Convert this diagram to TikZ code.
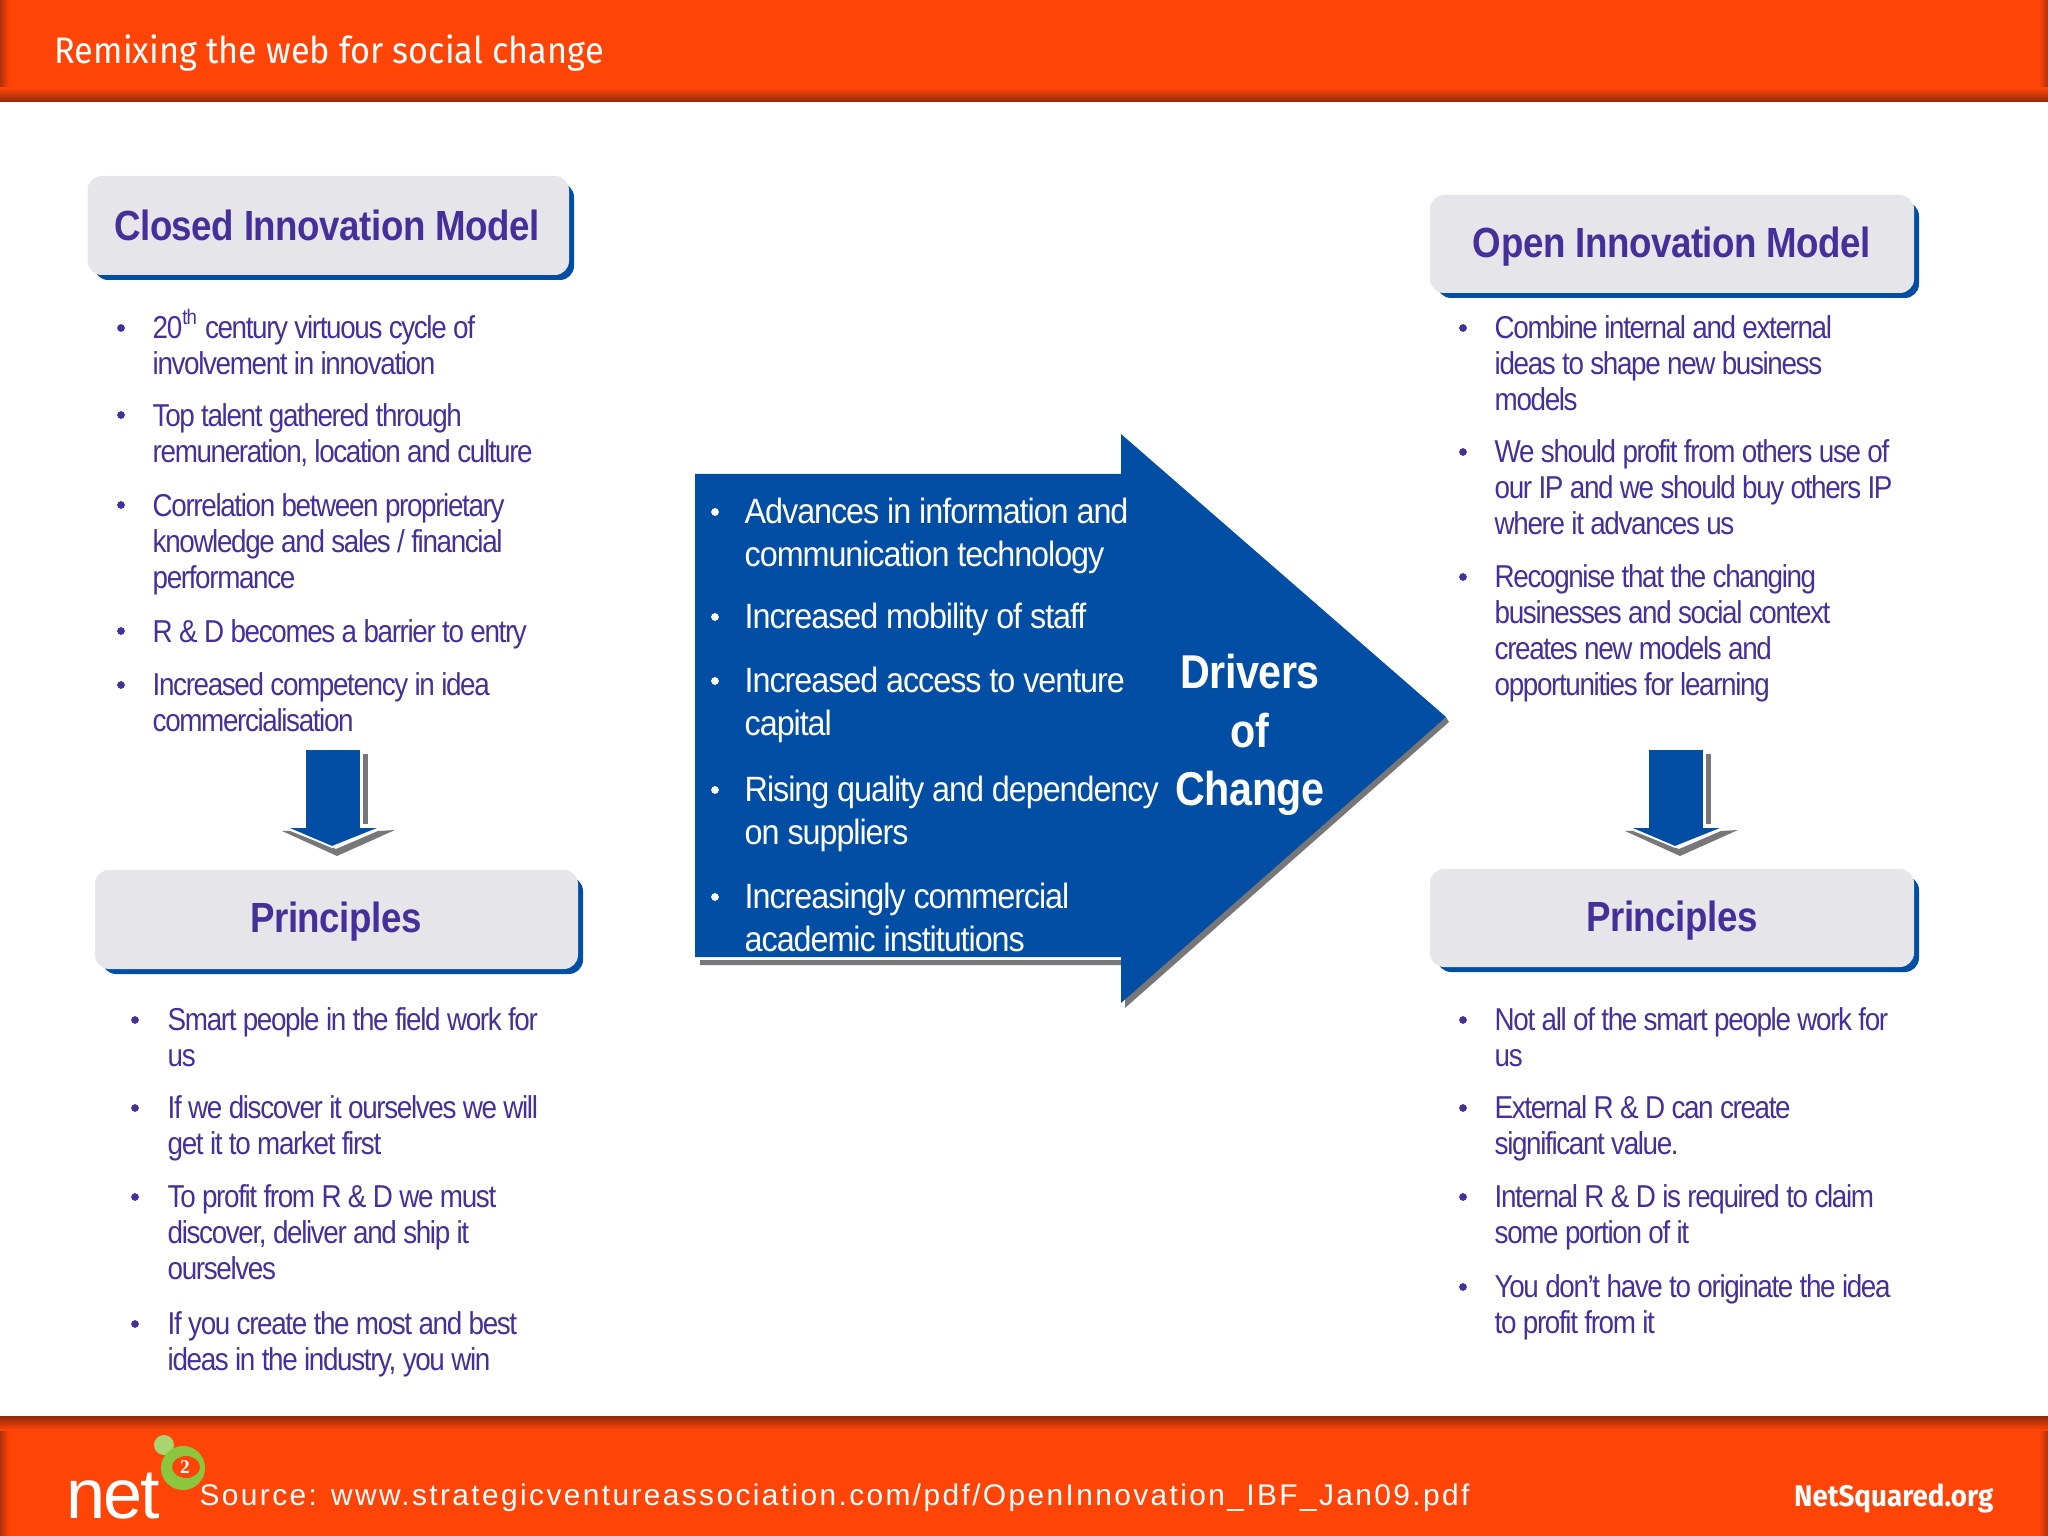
\documentclass[tikz,border=0pt]{standalone}
\usepackage{fontspec}
\setmainfont{Liberation Sans}
\newfontfamily\itemfont[FakeStretch=0.88,LetterSpace=-4.3]{Liberation Sans}
\newfontfamily\driverfont[FakeStretch=0.92,LetterSpace=-3]{Liberation Sans}
\newfontfamily\headfont[FakeStretch=0.87,LetterSpace=-1]{Liberation Sans}
\newfontfamily\barfont[FakeStretch=0.93]{Fira Sans}
\newfontfamily\sourcefont[LetterSpace=8.0]{Liberation Sans}
\newfontfamily\logofont{Liberation Serif}
\newfontfamily\netfont[LetterSpace=-3]{Liberation Sans}
\definecolor{barorange}{HTML}{FF4408}
\definecolor{bardark}{HTML}{8E2A0C}
\definecolor{boxgray}{HTML}{E6E5EA}
\definecolor{modelblue}{HTML}{024EA4}
\definecolor{itempurple}{HTML}{45309A}
\definecolor{shadowgray}{HTML}{77777A}
\definecolor{logogreen}{HTML}{8CC63F}
\tikzset{
  titlebox/.style={fill=boxgray,rounded corners=4pt},
  titleshadow/.style={fill=modelblue,rounded corners=4pt},
  titletext/.style={text=itempurple,font=\headfont\fontsize{12}{14}\bfseries\selectfont},
  itemtext/.style={anchor=north west,inner sep=0pt,align=left,text=itempurple,
    font=\itemfont\fontsize{9}{10.25}\selectfont},
  itemdot/.style={circle,fill=itempurple,inner sep=0pt,minimum size=2.2pt},
  whitetext/.style={anchor=north west,inner sep=0pt,align=left,text=white,
    font=\driverfont\fontsize{10}{12.4}\selectfont},
  whitedot/.style={circle,fill=white,inner sep=0pt,minimum size=2.2pt},
  downarrow/.style={fill=modelblue,draw=white,line width=0.5pt},
  downshadow/.style={fill=shadowgray},
}
\begin{document}
\begin{tikzpicture}
\useasboundingbox (0,0) rectangle (20.48,-15.36);
\fill[white] (0,0) rectangle (20.48,-15.36);
% top and bottom bars
\fill[barorange] (0,0) rectangle (20.48,-1.02);
\shade[left color=bardark!70!barorange,right color=barorange] (0,0) rectangle (0.09,-1.02);
\shade[left color=barorange,right color=bardark!70!barorange] (20.39,0) rectangle (20.48,-1.02);
\shade[top color=barorange,bottom color=bardark] (0,-0.88) rectangle (20.48,-1.02);
\fill[barorange] (0,-14.16) rectangle (20.48,-15.36);
\shade[left color=bardark!70!barorange,right color=barorange] (0,-14.16) rectangle (0.09,-15.36);
\shade[left color=barorange,right color=bardark!70!barorange] (20.39,-14.16) rectangle (20.48,-15.36);
\shade[top color=bardark,bottom color=barorange] (0,-14.16) rectangle (20.48,-14.30);
\node[anchor=west,inner sep=0pt,text=white,font=\barfont\fontsize{10.5}{12}\selectfont] (bartitle) at (0.54,-0.53) {Remixing the web for social change};
% logo
\fill[logogreen!75!white] (1.64,-14.45) circle (0.10);
\fill[logogreen] (1.83,-14.68) circle (0.22);
\fill[barorange] (1.86,-14.67) ellipse (0.14 and 0.11);
\node[text=white,font=\logofont\bfseries\fontsize{5.5}{6}\selectfont,inner sep=0pt] (logotwo) at (1.85,-14.67) {2};
\node[anchor=base west,inner sep=0pt,text=white,font=\netfont\fontsize{20}{24}\selectfont] (logonet) at (0.66,-15.18) {net};
\node[anchor=west,inner sep=0pt,text=white,font=\sourcefont\fontsize{8.5}{10}\selectfont] (source) at (1.99,-14.98) {Source: www.strategicventureassociation.com/pdf/OpenInnovation\_IBF\_Jan09.pdf};
\node[anchor=east,inner sep=0pt,text=white,font=\barfont\fontsize{8.5}{10}\bfseries\selectfont] (netsquared) at (19.94,-14.98) {NetSquared.org};
% closed model
\fill[titleshadow] (0.94,-1.83) rectangle (5.74,-2.80);
\fill[titlebox] (0.875,-1.76) rectangle (5.69,-2.75);
\node[titletext] (closed) at (3.27,-2.25) {Closed Innovation Model};
\node[itemdot] (c1) at (1.21,-3.28) {};
\node[itemtext] (c1t) at (1.52,-3.09) {20\textsuperscript{th} century virtuous cycle of\\involvement in innovation};
\node[itemdot] (c2) at (1.21,-4.15) {};
\node[itemtext] (c2t) at (1.52,-4.03) {Top talent gathered through\\remuneration, location and culture};
\node[itemdot] (c3) at (1.21,-5.05) {};
\node[itemtext] (c3t) at (1.52,-4.93) {Correlation between proprietary\\knowledge and sales / financial\\performance};
\node[itemdot] (c4) at (1.21,-6.31) {};
\node[itemtext] (c4t) at (1.52,-6.19) {R \& D becomes a barrier to entry};
\node[itemdot] (c5) at (1.21,-6.85) {};
\node[itemtext] (c5t) at (1.52,-6.72) {Increased competency in idea\\commercialisation};
% left arrow
\fill[downshadow] (3.63,-7.54) rectangle (3.68,-8.24);
\fill[downshadow] (2.82,-8.31) -- (3.37,-8.56) -- (3.95,-8.30) -- (3.78,-8.31) -- (3.36,-8.49) -- (2.90,-8.31) -- cycle;
\draw[downarrow] (3.05,-7.49) -- (3.61,-7.49) -- (3.61,-8.27) -- (3.82,-8.27) -- (3.32,-8.47) -- (2.85,-8.27) -- (3.05,-8.27) -- cycle;
% left principles
\fill[titleshadow] (1.02,-8.77) rectangle (5.83,-9.74);
\fill[titlebox] (0.95,-8.70) rectangle (5.78,-9.69);
\node[titletext] (lprinciples) at (3.36,-9.22) {Principles};
\node[itemdot] (l1) at (1.35,-10.20) {};
\node[itemtext] (l1t) at (1.67,-10.07) {Smart people in the field work for\\us};
\node[itemdot] (l2) at (1.35,-11.08) {};
\node[itemtext] (l2t) at (1.67,-10.95) {If we discover it ourselves we will\\get it to market first};
\node[itemdot] (l3) at (1.35,-11.97) {};
\node[itemtext] (l3t) at (1.67,-11.84) {To profit from R \& D we must\\discover, deliver and ship it\\ourselves};
\node[itemdot] (l4) at (1.35,-13.24) {};
\node[itemtext] (l4t) at (1.67,-13.11) {If you create the most and best\\ideas in the industry, you win};
% big arrow
\fill[shadowgray] (7.00,-9.65) -- (11.25,-9.65) -- (11.25,-10.08) -- (14.49,-7.22) -- (14.46,-7.17) -- (11.21,-9.90) -- (11.21,-9.60) -- (7.00,-9.60) -- cycle;
\fill[modelblue] (6.95,-4.74) -- (11.21,-4.74) -- (11.21,-4.34) -- (14.46,-7.17) -- (11.21,-10.03) -- (11.21,-9.57) -- (6.95,-9.57) -- cycle;
\node[whitedot] (d1) at (7.15,-5.12) {};
\node[whitetext] (d1t) at (7.44,-4.97) {Advances in information and\\communication technology};
\node[whitedot] (d2) at (7.15,-6.17) {};
\node[whitetext] (d2t) at (7.44,-6.02) {Increased mobility of staff};
\node[whitedot] (d3) at (7.15,-6.81) {};
\node[whitetext] (d3t) at (7.44,-6.66) {Increased access to venture\\capital};
\node[whitedot] (d4) at (7.15,-7.90) {};
\node[whitetext] (d4t) at (7.44,-7.75) {Rising quality and dependency\\on suppliers};
\node[whitedot] (d5) at (7.15,-8.97) {};
\node[whitetext] (d5t) at (7.44,-8.82) {Increasingly commercial\\academic institutions};
\node[text=white,align=center,inner sep=0pt,font=\headfont\fontsize{13.5}{16.7}\bfseries\selectfont] (drivers) at (12.50,-7.35) {Drivers\\of\\Change};
% open model
\fill[titleshadow] (14.37,-2.02) rectangle (19.19,-2.98);
\fill[titlebox] (14.30,-1.95) rectangle (19.14,-2.93);
\node[titletext] (open) at (16.72,-2.47) {Open Innovation Model};
\node[itemdot] (o1) at (14.63,-3.28) {};
\node[itemtext] (o1t) at (14.94,-3.15) {Combine internal and external\\ideas to shape new business\\models};
\node[itemdot] (o2) at (14.63,-4.52) {};
\node[itemtext] (o2t) at (14.94,-4.39) {We should profit from others use of\\our IP and we should buy others IP\\where it advances us};
\node[itemdot] (o3) at (14.63,-5.77) {};
\node[itemtext] (o3t) at (14.94,-5.64) {Recognise that the changing\\businesses and social context\\creates new models and\\opportunities for learning};
% right arrow
\fill[downshadow] (17.06,-7.54) rectangle (17.11,-8.24);
\fill[downshadow] (16.25,-8.31) -- (16.80,-8.56) -- (17.38,-8.30) -- (17.21,-8.31) -- (16.79,-8.49) -- (16.33,-8.31) -- cycle;
\draw[downarrow] (16.48,-7.49) -- (17.04,-7.49) -- (17.04,-8.27) -- (17.25,-8.27) -- (16.75,-8.47) -- (16.28,-8.27) -- (16.48,-8.27) -- cycle;
% right principles
\fill[titleshadow] (14.37,-8.76) rectangle (19.19,-9.72);
\fill[titlebox] (14.30,-8.69) rectangle (19.14,-9.67);
\node[titletext] (rprinciples) at (16.72,-9.21) {Principles};
\node[itemdot] (r1) at (14.63,-10.20) {};
\node[itemtext] (r1t) at (14.94,-10.07) {Not all of the smart people work for\\us};
\node[itemdot] (r2) at (14.63,-11.08) {};
\node[itemtext] (r2t) at (14.94,-10.95) {External R \& D can create\\significant value.};
\node[itemdot] (r3) at (14.63,-11.97) {};
\node[itemtext] (r3t) at (14.94,-11.84) {Internal R \& D is required to claim\\some portion of it};
\node[itemdot] (r4) at (14.63,-12.87) {};
\node[itemtext] (r4t) at (14.94,-12.74) {You don’t have to originate the idea\\to profit from it};
\end{tikzpicture}
\end{document}
